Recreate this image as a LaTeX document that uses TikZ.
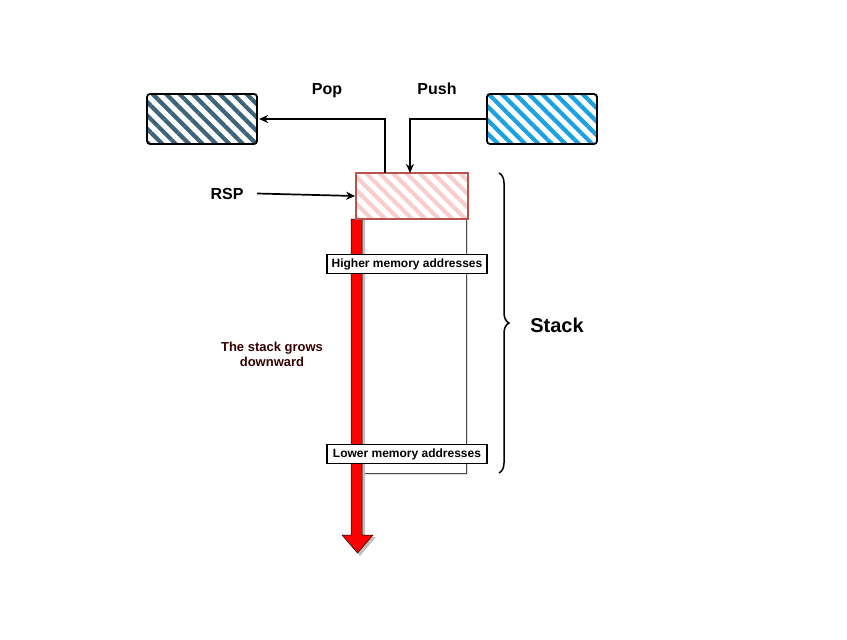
\documentclass[tikz,border=0pt]{standalone}
\usepackage{fontspec}
\setmainfont{Liberation Sans}
\usetikzlibrary{patterns.meta,decorations.pathreplacing,arrows.meta,shadows}
\definecolor{popfill}{HTML}{3F6378}
\definecolor{pushfill}{HTML}{1BA1E2}
\definecolor{topfill}{HTML}{F8CECC}
\definecolor{topdraw}{HTML}{B85450}
\definecolor{growtext}{HTML}{330000}
\tikzset{
  hatchbox/.style={rounded corners=3pt, line width=1.8pt, minimum width=110pt, minimum height=50pt, inner sep=0pt},
  conn/.style={line width=1.7pt, -{Stealth[length=9pt,width=8pt]}},
  memlabel/.style={draw=black, line width=1.4pt, fill=white, minimum width=160pt, minimum height=19pt, inner sep=0pt, text depth=1pt, font=\fontsize{12}{14}\selectfont\bfseries},
  biglabel/.style={font=\fontsize{16}{18}\selectfont\bfseries}
}
\begin{document}
\begin{tikzpicture}[x=1pt,y=-1pt]
\useasboundingbox (0,0) rectangle (847,640);
% pop / push boxes
\node[hatchbox, draw=black, pattern={Lines[angle=-45,distance=9.5pt,line width=4.2pt]}, pattern color=popfill] (pop) at (202,119) {};
\node[hatchbox, draw=black, pattern={Lines[angle=-45,distance=9.5pt,line width=4.2pt]}, pattern color=pushfill] (push) at (542,119) {};
% stack body
\node[draw=black!70, line width=0.8pt, minimum width=104pt, minimum height=254pt, inner sep=0pt, fill=white,
  drop shadow={shadow xshift=2pt, shadow yshift=-2pt, fill=black!25}] (body) at (414,346) {};
% red arrow
\fill[black!25] (354,219) -- (365,219) -- (365,537) -- (376,537) -- (360,556) -- (345,537) -- (354,537) -- cycle;
\draw[fill=red, draw=black, line width=0.5pt] (351,219) -- (362,219) -- (362,535) -- (373,535) -- (357.5,553) -- (342,535) -- (351,535) -- cycle;
% top box
\node[draw=topdraw, line width=1.8pt, minimum width=112pt, minimum height=46pt, inner sep=0pt,
  pattern={Lines[angle=-45,distance=9.5pt,line width=4.2pt]}, pattern color=topfill] (top) at (412,196) {};
% labels
\node[memlabel] (higher) at (407,264) {Higher memory addresses};
\node[memlabel] (lower) at (407,454) {Lower memory addresses};
\node[biglabel] (poplbl) at (327,90.5) {Pop};
\node[biglabel] (pushlbl) at (437,89) {Push};
\node[biglabel] (rsp) at (227,194) {RSP};
\node[font=\fontsize{20}{22}\selectfont\bfseries] (stack) at (557,325) {Stack};
\node[align=center, text=growtext, font=\fontsize{13}{15}\selectfont\bfseries] (grow) at (272,354) {The stack grows\\downward};
% connectors
\coordinate (popstart) at (385,173);
\coordinate (pushend) at (410,173);
\coordinate (rspstart) at (257,193.5);
\draw[conn] (popstart) |- (pop.east);
\draw[conn] (push.west) -| (pushend);
\draw[conn] (rspstart) -- (top.west);
% brace
\draw[line width=1.5pt, decorate, decoration={brace, amplitude=10pt}] (499,173) -- (499,473);
\end{tikzpicture}
\end{document}
